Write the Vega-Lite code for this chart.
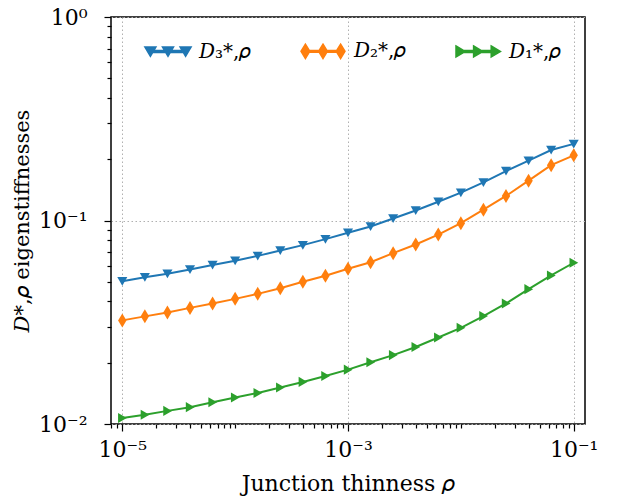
{
  "$schema": "https://vega.github.io/schema/vega-lite/v6.json",
  "width": 474,
  "height": 407,
  "autosize": "none",
  "padding": {"left": 111, "top": 17, "right": 35, "bottom": 80},
  "config": {
    "view": {"stroke": "black", "strokeWidth": 1.5},
    "font": "DejaVu Serif",
    "axis": {"domain": false, "tickColor": "black", "labelColor": "black", "titleColor": "black", "gridColor": "#b0b0b0", "gridDash": [1.5, 2.5], "gridWidth": 1, "tickWidth": 1.2, "labelFont": "DejaVu Serif", "titleFont": "DejaVu Serif", "labelFontSize": 22, "titleFontSize": 21, "titleFontWeight": "normal"}
  },
  "data": {
    "values": [
      {"rho": 1e-5, "value": 0.0503, "series": "D3"},
      {"rho": 1.585e-5, "value": 0.0526, "series": "D3"},
      {"rho": 2.512e-5, "value": 0.0548, "series": "D3"},
      {"rho": 3.981e-5, "value": 0.0574, "series": "D3"},
      {"rho": 6.31e-5, "value": 0.0605, "series": "D3"},
      {"rho": 1e-4, "value": 0.0634, "series": "D3"},
      {"rho": 1.585e-4, "value": 0.0670, "series": "D3"},
      {"rho": 2.512e-4, "value": 0.0712, "series": "D3"},
      {"rho": 3.981e-4, "value": 0.0757, "series": "D3"},
      {"rho": 6.31e-4, "value": 0.0810, "series": "D3"},
      {"rho": 1e-3, "value": 0.0870, "series": "D3"},
      {"rho": 1.585e-3, "value": 0.0935, "series": "D3"},
      {"rho": 2.512e-3, "value": 0.1023, "series": "D3"},
      {"rho": 3.981e-3, "value": 0.112, "series": "D3"},
      {"rho": 6.31e-3, "value": 0.1236, "series": "D3"},
      {"rho": 1e-2, "value": 0.137, "series": "D3"},
      {"rho": 1.585e-2, "value": 0.154, "series": "D3"},
      {"rho": 2.512e-2, "value": 0.175, "series": "D3"},
      {"rho": 3.981e-2, "value": 0.197, "series": "D3"},
      {"rho": 6.31e-2, "value": 0.222, "series": "D3"},
      {"rho": 1e-1, "value": 0.238, "series": "D3"},
      {"rho": 1e-5, "value": 0.0323, "series": "D2"},
      {"rho": 1.585e-5, "value": 0.0338, "series": "D2"},
      {"rho": 2.512e-5, "value": 0.0353, "series": "D2"},
      {"rho": 3.981e-5, "value": 0.0372, "series": "D2"},
      {"rho": 6.31e-5, "value": 0.0391, "series": "D2"},
      {"rho": 1e-4, "value": 0.0412, "series": "D2"},
      {"rho": 1.585e-4, "value": 0.0436, "series": "D2"},
      {"rho": 2.512e-4, "value": 0.0465, "series": "D2"},
      {"rho": 3.981e-4, "value": 0.0500, "series": "D2"},
      {"rho": 6.31e-4, "value": 0.0535, "series": "D2"},
      {"rho": 1e-3, "value": 0.0579, "series": "D2"},
      {"rho": 1.585e-3, "value": 0.0624, "series": "D2"},
      {"rho": 2.512e-3, "value": 0.0691, "series": "D2"},
      {"rho": 3.981e-3, "value": 0.0762, "series": "D2"},
      {"rho": 6.31e-3, "value": 0.0853, "series": "D2"},
      {"rho": 1e-2, "value": 0.0970, "series": "D2"},
      {"rho": 1.585e-2, "value": 0.113, "series": "D2"},
      {"rho": 2.512e-2, "value": 0.132, "series": "D2"},
      {"rho": 3.981e-2, "value": 0.157, "series": "D2"},
      {"rho": 6.31e-2, "value": 0.187, "series": "D2"},
      {"rho": 1e-1, "value": 0.209, "series": "D2"},
      {"rho": 1e-5, "value": 0.0107, "series": "D1"},
      {"rho": 1.585e-5, "value": 0.0111, "series": "D1"},
      {"rho": 2.512e-5, "value": 0.0116, "series": "D1"},
      {"rho": 3.981e-5, "value": 0.0121, "series": "D1"},
      {"rho": 6.31e-5, "value": 0.0128, "series": "D1"},
      {"rho": 1e-4, "value": 0.0135, "series": "D1"},
      {"rho": 1.585e-4, "value": 0.0142, "series": "D1"},
      {"rho": 2.512e-4, "value": 0.0151, "series": "D1"},
      {"rho": 3.981e-4, "value": 0.0161, "series": "D1"},
      {"rho": 6.31e-4, "value": 0.0172, "series": "D1"},
      {"rho": 1e-3, "value": 0.0185, "series": "D1"},
      {"rho": 1.585e-3, "value": 0.0201, "series": "D1"},
      {"rho": 2.512e-3, "value": 0.0218, "series": "D1"},
      {"rho": 3.981e-3, "value": 0.0239, "series": "D1"},
      {"rho": 6.31e-3, "value": 0.0266, "series": "D1"},
      {"rho": 1e-2, "value": 0.0297, "series": "D1"},
      {"rho": 1.585e-2, "value": 0.0339, "series": "D1"},
      {"rho": 2.512e-2, "value": 0.0391, "series": "D1"},
      {"rho": 3.981e-2, "value": 0.0460, "series": "D1"},
      {"rho": 6.31e-2, "value": 0.0537, "series": "D1"},
      {"rho": 1e-1, "value": 0.0620, "series": "D1"}
    ]
  },
  "encoding": {
    "x": {
      "field": "rho", "type": "quantitative",
      "scale": {"type": "log", "domain": [7.943e-6, 0.1259], "nice": false},
      "axis": {
        "title": "Junction thinness 𝜌",
        "titleFontSize": 22,
        "values": [8e-6, 9e-6, 1e-5, 2e-5, 3e-5, 4e-5, 5e-5, 6e-5, 7e-5, 8e-5, 9e-5, 1e-4, 2e-4, 3e-4, 4e-4, 5e-4, 6e-4, 7e-4, 8e-4, 9e-4, 0.001, 0.002, 0.003, 0.004, 0.005, 0.006, 0.007, 0.008, 0.009, 0.01, 0.02, 0.03, 0.04, 0.05, 0.06, 0.07, 0.08, 0.09, 0.1],
        "labelExpr": "datum.value == 1e-5 ? '10⁻⁵' : datum.value == 0.001 ? '10⁻³' : datum.value == 0.1 ? '10⁻¹' : ''",
        "tickSize": {"condition": {"test": "datum.value == 1e-5 || datum.value == 0.001 || datum.value == 0.1", "value": 7}, "value": 4},
        "gridOpacity": {"condition": {"test": "datum.value == 1e-5 || datum.value == 0.001 || datum.value == 0.1", "value": 1}, "value": 0},
        "labelPadding": 8,
        "labelOverlap": false,
        "titlePadding": 13
      }
    },
    "y": {
      "field": "value", "type": "quantitative",
      "scale": {"type": "log", "domain": [0.01, 1], "nice": false},
      "axis": {
        "title": "𝐷*,𝜌 eigenstiffnesses",
        "values": [0.01, 0.02, 0.03, 0.04, 0.05, 0.06, 0.07, 0.08, 0.09, 0.1, 0.2, 0.3, 0.4, 0.5, 0.6, 0.7, 0.8, 0.9, 1],
        "labelExpr": "datum.value == 0.01 ? '10⁻²' : datum.value == 0.1 ? '10⁻¹' : datum.value == 1 ? '10⁰' : ''",
        "tickSize": {"condition": {"test": "datum.value == 0.01 || datum.value == 0.1 || datum.value == 1", "value": 7}, "value": 4},
        "gridOpacity": {"condition": {"test": "datum.value == 0.01 || datum.value == 0.1 || datum.value == 1", "value": 1}, "value": 0},
        "labelPadding": 17,
        "labelOverlap": false,
        "titlePadding": 6
      }
    }
  },
  "layer": [
    {
      "mark": {"type": "point", "filled": true, "size": 0, "opacity": 1},
      "encoding": {
        "fill": {
          "field": "series", "type": "nominal",
          "scale": {"domain": ["D3", "D2", "D1"], "range": ["#1f77b4", "#ff7f0e", "#2ca02c"]},
          "legend": {
            "title": null,
            "orient": "none",
            "direction": "horizontal",
            "legendX": 34,
            "legendY": 11,
            "padding": 0,
            "gridAlign": "all",
            "columnPadding": 47,
            "symbolSize": 1936,
            "symbolOpacity": 1,
            "labelFont": "DejaVu Serif",
            "labelFontSize": 20,
            "labelColor": "black",
            "labelOffset": 8,
            "labelExpr": "datum.value == 'D3' ? '𝐷₃*,𝜌' : datum.value == 'D2' ? '𝐷₂*,𝜌' : '𝐷₁*,𝜌'"
          }
        },
        "shape": {
          "field": "series", "type": "nominal",
          "scale": {"domain": ["D3", "D2", "D1"], "range": [
            "M-0.8,-0.04L0.8,-0.04L0.8,0.04L-0.8,0.04ZM-1.05,-0.2L-0.55,-0.2L-0.8,0.22ZM-0.25,-0.2L0.25,-0.2L0,0.22ZM0.55,-0.2L1.05,-0.2L0.8,0.22Z",
            "M-0.8,-0.04L0.8,-0.04L0.8,0.04L-0.8,0.04ZM-0.8,-0.33L-0.6,0L-0.8,0.33L-1.0,0ZM0,-0.33L0.2,0L0,0.33L-0.2,0ZM0.8,-0.33L1.0,0L0.8,0.33L0.6,0Z",
            "M-0.8,-0.04L0.8,-0.04L0.8,0.04L-0.8,0.04ZM-1.0,-0.25L-0.58,0L-1.0,0.25ZM-0.2,-0.25L0.22,0L-0.2,0.25ZM0.6,-0.25L1.02,0L0.6,0.25Z"
          ]}
        }
      }
    },
    {
      "mark": {"type": "line", "strokeWidth": 2},
      "encoding": {
        "stroke": {"field": "series", "type": "nominal", "scale": {"domain": ["D3", "D2", "D1"], "range": ["#1f77b4", "#ff7f0e", "#2ca02c"]}, "legend": null}
      }
    },
    {
      "transform": [{"filter": "datum.series == 'D3'"}],
      "mark": {"type": "point", "filled": true, "size": 196, "opacity": 1, "shape": "M-0.72,-0.6L0.72,-0.6L0,0.65Z"},
      "encoding": {
        "fill": {"field": "series", "type": "nominal", "scale": {"domain": ["D3", "D2", "D1"], "range": ["#1f77b4", "#ff7f0e", "#2ca02c"]}}
      }
    },
    {
      "transform": [{"filter": "datum.series == 'D2'"}],
      "mark": {"type": "point", "filled": true, "size": 196, "opacity": 1, "shape": "M0,-1L0.6,0L0,1L-0.6,0Z"},
      "encoding": {
        "fill": {"field": "series", "type": "nominal", "scale": {"domain": ["D3", "D2", "D1"], "range": ["#1f77b4", "#ff7f0e", "#2ca02c"]}}
      }
    },
    {
      "transform": [{"filter": "datum.series == 'D1'"}],
      "mark": {"type": "point", "filled": true, "size": 196, "opacity": 1, "shape": "M-0.6,-0.72L-0.6,0.72L0.65,0Z"},
      "encoding": {
        "fill": {"field": "series", "type": "nominal", "scale": {"domain": ["D3", "D2", "D1"], "range": ["#1f77b4", "#ff7f0e", "#2ca02c"]}}
      }
    }
  ]
}
